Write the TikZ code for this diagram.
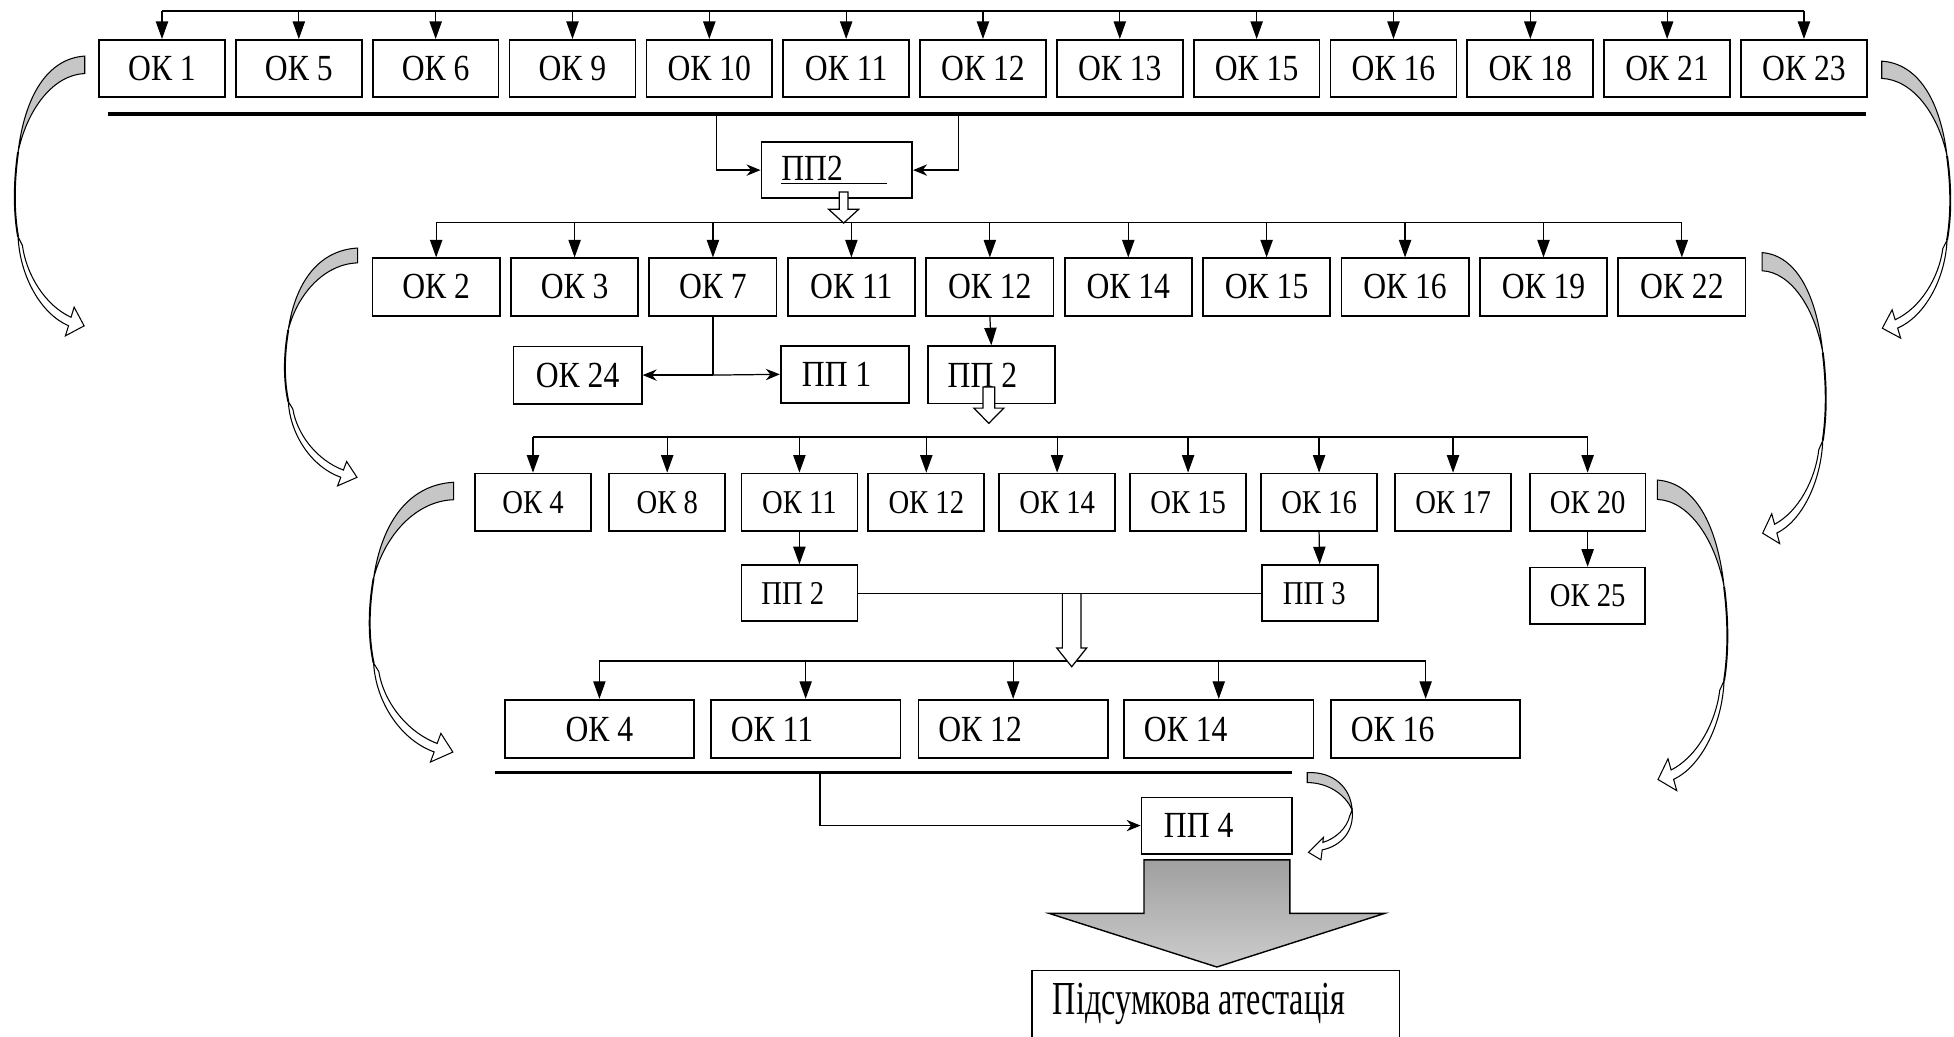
\documentclass[tikz,border=0pt]{standalone}
\usepackage{fontspec}
\setmainfont{Liberation Serif}[FakeStretch=0.86]
\newfontfamily\finalfont{Liberation Serif}[FakeStretch=0.68]
\usetikzlibrary{arrows.meta,calc}

% curved turn arrow at the side of a row: #1 start, #2 xscale, #3 yscale
\newcommand{\bendarrow}[3]{%
  \begin{scope}[shift={#1}, xscale=#2, yscale=#3]
    \draw[fill=gray!45, line width=0.6pt] (0,-7) .. controls (-30,-5) and (-48,25) .. (-53.5,70)
      .. controls (-46,35) and (-25,8) .. (0,7) -- cycle;
    \draw[line width=1.1pt] (-53.5,70) .. controls (-57,95) and (-57,118) .. (-53.5,138);
    \draw[fill=white, line width=0.6pt] (-53.5,138) .. controls (-52,170) and (-35,200) .. (-13,209.4)
      -- (-15.5,217.5) -- (-0.5,209.5) -- (-8.5,194.5) -- (-11,202.6)
      .. controls (-32,193) and (-47,168) .. (-50,145) -- cycle;
  \end{scope}}

% hollow block arrow pointing down: #1 x, #2 shaft top, #3 head base, #4 tip, #5 half shaft, #6 closing
\newcommand{\hollowdown}[6]{%
  \draw[fill=white, line width=0.7pt] (#1-#5,#2) -- (#1-#5,#3) -- (#1-12,#3) -- (#1,#4)
    -- (#1+12,#3) -- (#1+#5,#3) -- (#1+#5,#2) #6;}

\begin{document}
\begin{tikzpicture}[x=0.025cm, y=-0.025cm, font=\fontsize{21}{24}\selectfont,
  box/.style={draw, rectangle, line width=1pt, inner sep=0pt, minimum height=1.15cm},
  boxA/.style={box, minimum width=2.525cm},
  boxB/.style={box, minimum width=2.55cm},
  boxC/.style={box, minimum width=2.325cm, font=\fontsize{19}{22}\selectfont},
  boxD/.style={box, minimum height=1.175cm, text width=3.0cm, inner xsep=0.4cm, align=flush left},
  leftbox/.style={box, align=flush left},
  feed/.style={line width=0.7pt, -{Triangle[length=10pt,width=7pt]}},
  pointer/.style={line width=0.7pt, -{Stealth[length=8pt,width=6.5pt]}},
  bus/.style={line width=0.7pt},
  rule/.style={line width=2pt}]
  \useasboundingbox (0,0) rectangle (1568,832);

  % first row
  \node[boxA] (rowAok1)  at (130,55)    {ОК 1};
  \node[boxA] (rowAok5)  at (239.8,55)  {ОК 5};
  \node[boxA] (rowAok6)  at (349.6,55)  {ОК 6};
  \node[boxA] (rowAok9)  at (459.4,55)  {ОК 9};
  \node[boxA] (rowAok10) at (569.2,55)  {ОК 10};
  \node[boxA] (rowAok11) at (679,55)    {ОК 11};
  \node[boxA] (rowAok12) at (788.8,55)  {ОК 12};
  \node[boxA] (rowAok13) at (898.6,55)  {ОК 13};
  \node[boxA] (rowAok15) at (1008.4,55) {ОК 15};
  \node[boxA] (rowAok16) at (1118.2,55) {ОК 16};
  \node[boxA] (rowAok18) at (1228,55)   {ОК 18};
  \node[boxA] (rowAok21) at (1337.8,55) {ОК 21};
  \node[boxA] (rowAok23) at (1447.6,55) {ОК 23};

  \node[leftbox, minimum width=3.025cm, minimum height=1.125cm, text width=2.225cm, inner xsep=0.4cm] (ppA) at (671.5,136.5) {\underline{ПП2\hspace{1.2em}}};

  % second row
  \node[boxB] (rowBok2)  at (350,230.3)    {ОК 2};
  \node[boxB] (rowBok3)  at (461.1,230.3)  {ОК 3};
  \node[boxB] (rowBok7)  at (572.1,230.3)  {ОК 7};
  \node[boxB] (rowBok11) at (683.2,230.3)  {ОК 11};
  \node[boxB] (rowBok12) at (794.3,230.3)  {ОК 12};
  \node[boxB] (rowBok14) at (905.4,230.3)  {ОК 14};
  \node[boxB] (rowBok15) at (1016.4,230.3) {ОК 15};
  \node[boxB] (rowBok16) at (1127.5,230.3) {ОК 16};
  \node[boxB] (rowBok19) at (1238.6,230.3) {ОК 19};
  \node[boxB] (rowBok22) at (1349.6,230.3) {ОК 22};

  \node[box, minimum width=2.575cm] (okB24) at (463.5,301) {ОК 24};
  \node[leftbox, minimum width=2.575cm, text width=1.725cm, inner xsep=0.425cm] (ppB1) at (678,300.4) {ПП 1};
  \node[leftbox, minimum width=2.55cm, text width=1.75cm, inner xsep=0.4cm] (ppB2) at (795.5,300.8) {ПП 2};

  % third row
  \node[boxC] (rowCok4)  at (427.7,403)  {ОК 4};
  \node[boxC] (rowCok8)  at (535.4,403)  {ОК 8};
  \node[boxC] (rowCok11) at (641.5,403)  {ОК 11};
  \node[boxC] (rowCok12) at (743.3,403)  {ОК 12};
  \node[boxC] (rowCok14) at (848.3,403)  {ОК 14};
  \node[boxC] (rowCok15) at (953.4,403)  {ОК 15};
  \node[boxC] (rowCok16) at (1058.5,403) {ОК 16};
  \node[boxC] (rowCok17) at (1166,403)   {ОК 17};
  \node[boxC] (rowCok20) at (1274,403)   {ОК 20};

  \node[leftbox, font=\fontsize{19}{22}\selectfont, minimum width=2.325cm, minimum height=1.125cm, text width=1.525cm, inner xsep=0.4cm] (ppC2) at (641.5,476) {ПП 2};
  \node[leftbox, font=\fontsize{19}{22}\selectfont, minimum width=2.325cm, minimum height=1.125cm, text width=1.475cm, inner xsep=0.425cm] (ppC3) at (1059,476) {ПП 3};
  \node[box, font=\fontsize{19}{22}\selectfont, minimum width=2.3cm, minimum height=1.125cm] (okC25) at (1274,478) {ОК 25};

  % fourth row
  \node[boxD, align=flush center] (rowDok4) at (481,585) {ОК 4};
  \node[boxD] (rowDok11) at (646.5,585) {ОК 11};
  \node[boxD] (rowDok12) at (813,585)   {ОК 12};
  \node[boxD] (rowDok14) at (978,585)   {ОК 14};
  \node[boxD] (rowDok16) at (1144,585)  {ОК 16};

  \node[leftbox, minimum width=3.025cm, minimum height=1.125cm, text width=2.125cm, inner xsep=0.45cm] (ppD4) at (976.5,662.5) {ПП 4};

  \node[leftbox, anchor=north, font={\finalfont\fontsize{27}{31}\selectfont}, text width=6.525cm, inner xsep=0.425cm, inner ysep=7.4pt] (finalNode) at (975.5,778) {Підсумкова атестація};

  % buses and feeds
  \coordinate (busA) at (0,8.8);
  \coordinate (busB) at (0,178.7);
  \coordinate (busC) at (0,350.6);
  \coordinate (busD) at (0,530.4);

  \draw[bus] (busA -| rowAok1.north) -- (busA -| rowAok23.north);
  \foreach \n in {1,5,6,9,10,11,12,13,15,16,18,21,23}
    \draw[feed] (busA -| rowAok\n.north) -- (rowAok\n.north);

  \draw[bus] (busB -| rowBok2.north) -- (busB -| rowBok22.north);
  \foreach \n in {2,3,7,11,12,14,15,16,19,22}
    \draw[feed] (busB -| rowBok\n.north) -- (rowBok\n.north);

  \draw[bus] (busC -| rowCok4.north) -- (busC -| rowCok20.north);
  \foreach \n in {4,8,11,12,14,15,16,17,20}
    \draw[feed] (busC -| rowCok\n.north) -- (rowCok\n.north);

  \draw[bus] (busD -| rowDok4.north) -- (busD -| rowDok16.north);
  \foreach \n in {4,11,12,14,16}
    \draw[feed] (busD -| rowDok\n.north) -- (rowDok\n.north);

  % rules under the first and the last row
  \draw[rule] (87,91.5) coordinate (ruleAstart) -- (1497.5,91.5) coordinate (ruleAend);
  \draw[rule] (397,620) coordinate (ruleDstart) -- (1037,620) coordinate (ruleDend);

  \coordinate (tapAL) at (575,91.5);
  \coordinate (tapAR) at (769,91.5);
  \draw[pointer] (tapAL) |- (ppA.west);
  \draw[pointer] (tapAR) |- (ppA.east);

  \coordinate (okB7foot) at (rowBok7.south |- okB24.east);
  \draw[bus] (rowBok7.south) -- (okB7foot);
  \draw[pointer] (okB7foot) -- (okB24.east);
  \draw[pointer] (okB7foot) -- (ppB1.west);
  \draw[feed] (rowBok12.south) -- (ppB2.north);

  \draw[feed] (rowCok11.south) -- (ppC2.north);
  \draw[feed] (rowCok16.south) -- (ppC3.north);
  \draw[feed] (rowCok20.south) -- (okC25.north);

  \coordinate (tapD) at (658,620);
  \draw[pointer] (tapD) |- (ppD4.west);

  % hollow arrows
  \hollowdown{677}{154}{168}{179}{3.5}{-- cycle}
  \hollowdown{793.5}{310.5}{327.5}{339.7}{4.7}{-- cycle}
  \hollowdown{860}{476}{520}{535}{7.5}{}
  \draw[bus] (ppC2.east) -- (ppC3.west);

  % big arrow to the final attestation
  \draw[top color=gray!75, bottom color=gray!40, line width=0.8pt]
    (918,690) -- (1035,690) -- (1035,733) -- (1111,733) -- (976.5,776) -- (842,733) -- (918,733) -- cycle;

  % turn arrows at the sides
  \bendarrow{(68,52)}{1}{1}
  \bendarrow{(1510,56)}{-0.98}{0.99}
  \bendarrow{(287,205)}{1.04}{0.85}
  \bendarrow{(1414,210)}{-0.91}{1.04}
  \bendarrow{(364,394)}{1.2}{1.0}
  \bendarrow{(1330,393)}{-1.0}{1.11}

  \draw[fill=gray!45, line width=0.6pt] (1049,620) .. controls (1070,619) and (1084,632) .. (1085,650)
    .. controls (1080,638) and (1066,628) .. (1049,628) -- cycle;
  \draw[fill=white, line width=0.6pt] (1085,650) .. controls (1087,667) and (1076,679) .. (1061,682)
    -- (1060,690) -- (1050,684) -- (1062,672) -- (1061.5,676)
    .. controls (1072,673) and (1081,664) .. (1083,655) -- cycle;
\end{tikzpicture}
\end{document}
